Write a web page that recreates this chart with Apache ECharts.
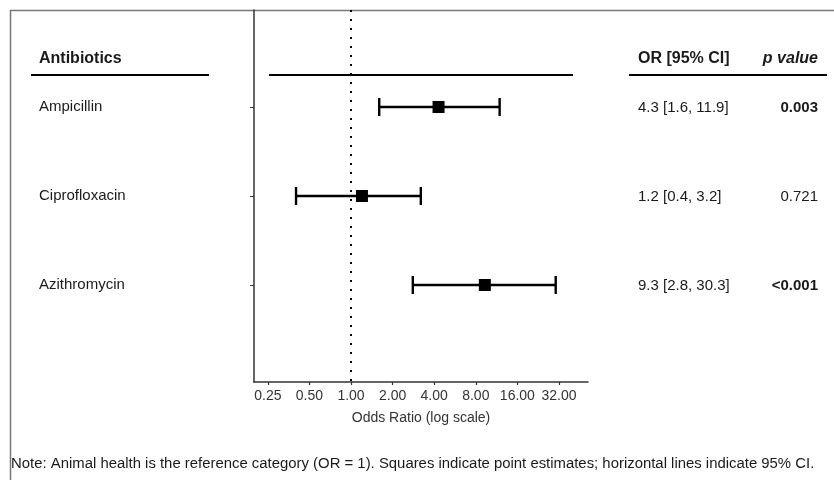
<!DOCTYPE html>
<html>
<head>
<meta charset="utf-8">
<script src="https://cdn.jsdelivr.net/npm/echarts@6/dist/echarts.min.js"></script>
<style>
  html, body { margin: 0; padding: 0; background: #fff; }
  #chart { width: 834px; height: 480px; }
</style>
</head>
<body>
<div id="chart"></div>
<script>
// forest plot data (top to bottom)
const antibiotics = ['Ampicillin', 'Ciprofloxacin', 'Azithromycin'];
const oddsRatio = [4.3, 1.2, 9.3];
const ciLower = [1.6, 0.4, 2.8];
const ciUpper = [11.9, 3.2, 30.3];
const pValues = ['0.003', '0.721', '<0.001'];
const rowPos = [1, 2, 3];

const font = 'Liberation Sans, Arial, sans-serif';
const ink = '#1a1a1a';

const chart = echarts.init(document.getElementById('chart'));

const fmtCI = i => oddsRatio[i].toFixed(1) + ' [' + ciLower[i].toFixed(1) + ', ' + ciUpper[i].toFixed(1) + ']';
const isSig = p => parseFloat(p.replace('<', '')) < 0.05;

chart.setOption({
  animation: false,
  grid: { left: 254, top: 10, width: 334, height: 372 },
  xAxis: {
    type: 'log',
    logBase: 2,
    min: 0.1985,
    max: 51.9,
    name: 'Odds Ratio (log scale)',
    nameLocation: 'middle',
    nameGap: 29,
    nameTextStyle: { fontFamily: font, fontSize: 14, color: '#333' },
    axisLine: { onZero: false, lineStyle: { color: '#333', width: 1.5 } },
    axisTick: { length: 3, lineStyle: { color: '#333', width: 1.2 } },
    splitLine: { show: false },
    minorSplitLine: { show: false },
    axisLabel: {
      fontFamily: font, fontSize: 14, color: '#333', margin: 7,
      showMinLabel: false, showMaxLabel: false,
      formatter: v => v.toFixed(2)
    }
  },
  yAxis: {
    type: 'value',
    inverse: true,
    min: -0.09,
    max: 4.09,
    axisLine: { show: true, onZero: false, lineStyle: { color: '#333', width: 1.5 } },
    axisTick: { show: true, length: 4, customValues: rowPos, lineStyle: { color: '#333' } },
    splitLine: { show: false },
    axisLabel: {
      customValues: rowPos,
      formatter: v => antibiotics[Math.round(v) - 1],
      align: 'left',
      margin: 215,
      padding: [2, 0, 0, 0],
      fontFamily: font, fontSize: 15, color: ink
    }
  },
  series: [
    {
      // confidence intervals
      type: 'custom',
      data: antibiotics.map((_, i) => [ciLower[i], ciUpper[i], rowPos[i]]),
      encode: { x: [0, 1], y: 2 },
      renderItem: (params, api) => {
        const a = api.coord([api.value(0), api.value(2)]);
        const b = api.coord([api.value(1), api.value(2)]);
        const st = { stroke: '#000', lineWidth: 2.4 };
        return {
          type: 'group',
          children: [
            { type: 'line', shape: { x1: a[0], y1: a[1], x2: b[0], y2: b[1] }, style: st },
            { type: 'line', shape: { x1: a[0], y1: a[1] - 9, x2: a[0], y2: a[1] + 9 }, style: st },
            { type: 'line', shape: { x1: b[0], y1: b[1] - 9, x2: b[0], y2: b[1] + 9 }, style: st }
          ]
        };
      }
    },
    {
      // point estimates
      type: 'scatter',
      symbol: 'rect',
      symbolSize: 12,
      itemStyle: { color: '#000', opacity: 1 },
      data: antibiotics.map((_, i) => [oddsRatio[i], rowPos[i]]),
      markLine: {
        silent: true,
        symbol: ['none', 'none'],
        label: { show: false },
        lineStyle: { color: '#000', width: 2, type: [2, 7] },
        data: [{ xAxis: 1 }]
      },
      z: 3
    },
    {
      // table on the right
      type: 'custom',
      data: antibiotics.map((_, i) => [1, rowPos[i]]),
      encode: { y: 1 },
      renderItem: (params, api) => {
        const i = params.dataIndex;
        const y = api.coord([1, api.value(1)])[1] + 1;
        return {
          type: 'group',
          children: [
            { type: 'text', x: 638, y: y, style: { text: fmtCI(i), font: '15px ' + font, fill: ink, align: 'left', verticalAlign: 'middle' } },
            { type: 'text', x: 818, y: y, style: { text: pValues[i], font: (isSig(pValues[i]) ? 'bold ' : '') + '15px ' + font, fill: ink, align: 'right', verticalAlign: 'middle' } }
          ]
        };
      }
    }
  ],
  graphic: [
    // frame
    { type: 'line', shape: { x1: 10, y1: 10.5, x2: 834, y2: 10.5 }, style: { stroke: '#777', lineWidth: 1.5 } },
    { type: 'line', shape: { x1: 10.5, y1: 10, x2: 10.5, y2: 480 }, style: { stroke: '#777', lineWidth: 1.5 } },
    // headers
    { type: 'text', x: 39, y: 59, style: { text: 'Antibiotics', font: 'bold 16px ' + font, fill: ink, verticalAlign: 'middle' } },
    { type: 'text', x: 638, y: 59, style: { text: 'OR [95% CI]', font: 'bold 16px ' + font, fill: ink, verticalAlign: 'middle' } },
    { type: 'text', x: 818, y: 59, style: { text: 'p value', font: 'italic bold 16px ' + font, fill: ink, align: 'right', verticalAlign: 'middle' } },
    { type: 'line', shape: { x1: 31, y1: 75, x2: 209, y2: 75 }, style: { stroke: '#000', lineWidth: 2 } },
    { type: 'line', shape: { x1: 269, y1: 75, x2: 573, y2: 75 }, style: { stroke: '#000', lineWidth: 2 } },
    { type: 'line', shape: { x1: 629, y1: 75, x2: 827, y2: 75 }, style: { stroke: '#000', lineWidth: 2 } },
    // note
    { type: 'text', x: 11, y: 464, style: { text: 'Note: Animal health is the reference category (OR = 1). Squares indicate point estimates; horizontal lines indicate 95% CI.', font: '14.9px ' + font, fill: ink, verticalAlign: 'middle' } }
  ]
});
</script>
</body>
</html>
